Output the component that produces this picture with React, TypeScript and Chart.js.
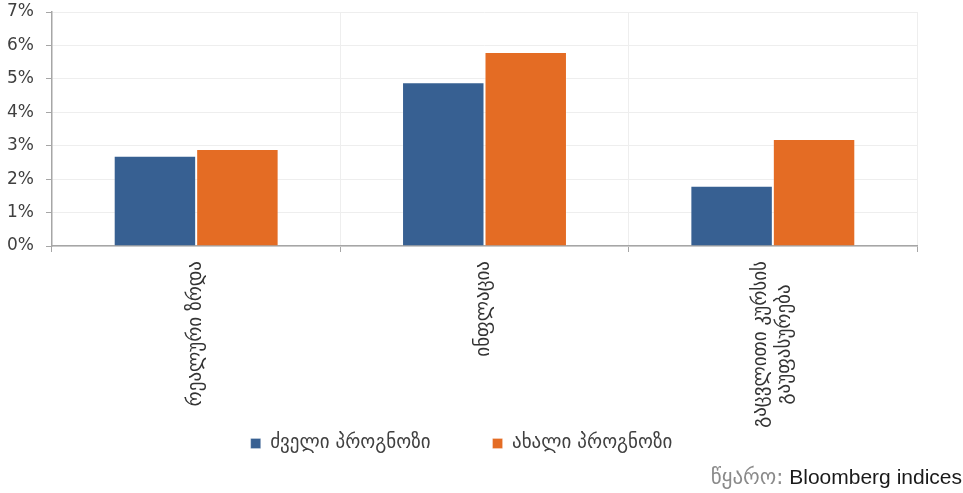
import { useEffect, useRef } from "react";
import { Chart, registerables } from "chart.js";

Chart.register(...registerables);

// Category labels (multi-line where the label wraps)
const categories: string[][] = [
  ["რეალური ზრდა"],
  ["ინფლაცია"],
  ["გაცვლითი კურსის", "გაუფასურება"],
];
const seriesNames = ["ძველი პროგნოზი", "ახალი პროგნოზი"];
// Forecast values, %
const oldForecast = [2.7, 4.9, 1.8];
const newForecast = [2.9, 5.8, 3.2];
const yMin = 0;
const yMax = 7;
const yStep = 1;
const sourceLabel = "წყარო:";
const sourceName = "Bloomberg indices";

const BLUE = "#376092";
const ORANGE = "#E46C24";
const AXIS = "#a6a6a6";
const GRID = "#eeeeee";
const TEXT = "#404040";
const GEO_FONT = "'DejaVu Sans', sans-serif";
const LABEL_SIZE = 19;
const LABEL_LINE = 24;

// Rotated category labels, each line centred on the longest one
const categoryLabels = {
  id: "categoryLabels",
  afterDraw(chart: any) {
    const { ctx } = chart;
    const x = chart.scales.x;
    ctx.save();
    ctx.font = `${LABEL_SIZE}px ${GEO_FONT}`;
    ctx.fillStyle = "#333333";
    ctx.textAlign = "center";
    ctx.textBaseline = "middle";
    categories.forEach((lines, i) => {
      const cx = x.getPixelForTick(i);
      const w = Math.max(...lines.map((l) => ctx.measureText(l).width));
      ctx.save();
      ctx.translate(cx, x.top + 15);
      ctx.rotate(-Math.PI / 2);
      lines.forEach((line, k) => {
        const off = (k - (lines.length - 1) / 2) * LABEL_LINE;
        ctx.fillText(line, -w / 2, off);
      });
      ctx.restore();
    });
    ctx.restore();
  },
};

// Source note in the bottom-right corner
const sourceNote = {
  id: "sourceNote",
  afterDraw(chart: any) {
    const { ctx, width } = chart;
    ctx.save();
    ctx.textBaseline = "alphabetic";
    ctx.textAlign = "right";
    ctx.font = "21px 'Liberation Sans', Arial, sans-serif";
    ctx.fillStyle = "#1a1a1a";
    const right = width - 1;
    const y = 484;
    ctx.fillText(sourceName, right, y);
    const nameW = ctx.measureText(" " + sourceName).width;
    ctx.font = `21px ${GEO_FONT}`;
    ctx.fillStyle = "#8a8a8a";
    ctx.fillText(sourceLabel, right - nameW, y);
    ctx.restore();
  },
};

export default function App() {
  const canvasRef = useRef<HTMLCanvasElement | null>(null);

  useEffect(() => {
    if (!canvasRef.current) return;
    const chart = new Chart(canvasRef.current, {
      type: "bar",
      data: {
        labels: categories.map((c) => c.join(" ")),
        datasets: [
          {
            label: seriesNames[0],
            data: oldForecast,
            backgroundColor: BLUE,
            borderColor: "rgba(255,255,255,0.25)",
            borderWidth: 1,
          },
          {
            label: seriesNames[1],
            data: newForecast,
            backgroundColor: ORANGE,
            borderColor: "rgba(255,255,255,0.25)",
            borderWidth: 1,
          },
        ],
      },
      options: {
        animation: false,
        responsive: true,
        maintainAspectRatio: false,
        datasets: {
          bar: { categoryPercentage: 0.572, barPercentage: 1 },
        },
        layout: { padding: { top: 12, left: 6, right: 46, bottom: 30 } },
        plugins: {
          tooltip: { enabled: false },
          legend: {
            position: "bottom",
            labels: {
              boxWidth: 10,
              boxHeight: 10,
              padding: 62,
              color: TEXT,
              font: { family: GEO_FONT, size: 19 },
            },
          },
        },
        scales: {
          x: {
            offset: true,
            grid: {
              offset: true,
              color: GRID,
              tickColor: AXIS,
              tickLength: 6,
            },
            border: { color: AXIS, width: 1.5 },
            ticks: { display: false },
            afterFit: (scale: any) => {
              scale.height = 126;
            },
          },
          y: {
            min: yMin,
            max: yMax,
            grid: { color: GRID, tickColor: AXIS, tickLength: 6 },
            border: { color: AXIS, width: 1.5 },
            ticks: {
              stepSize: yStep,
              padding: 12,
              color: TEXT,
              font: { family: GEO_FONT, size: 17 },
              callback: (v: any) => `${v}%`,
            },
            afterFit: (scale: any) => {
              scale.width = 46;
              scale.paddingTop = 0;
              scale.paddingBottom = 0;
            },
          },
        },
      },
      plugins: [categoryLabels, sourceNote],
    });
    return () => chart.destroy();
  }, []);

  return (
    <div style={{ position: "fixed", left: 0, top: 0, width: 963, height: 493, background: "#fff" }}>
      <canvas ref={canvasRef} />
    </div>
  );
}
